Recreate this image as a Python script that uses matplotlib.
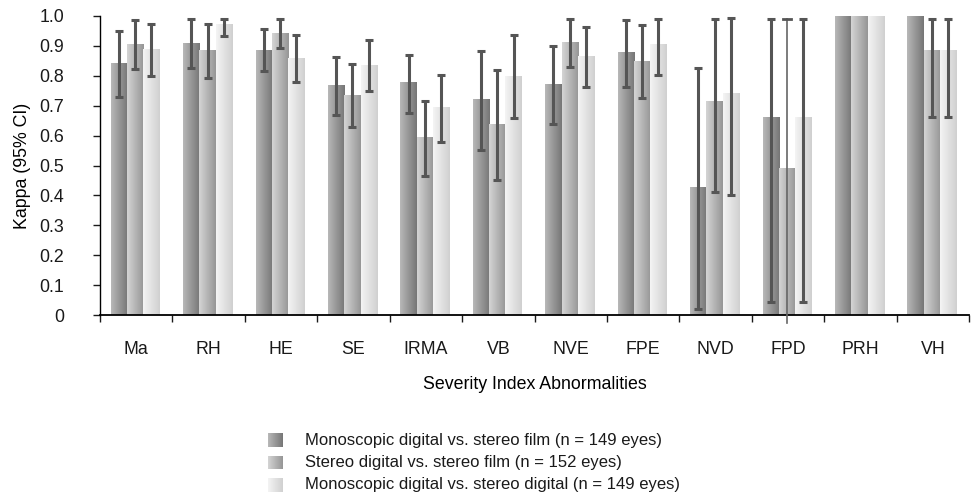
import numpy as np
import matplotlib.pyplot as plt
from matplotlib.colors import LinearSegmentedColormap

plt.rcParams['font.family'] = ['Liberation Sans', 'DejaVu Sans']
plt.rcParams['font.size'] = 12.8
plt.rcParams['text.color'] = '#1a1a1a'
plt.rcParams['xtick.color'] = '#1a1a1a'
plt.rcParams['ytick.color'] = '#1a1a1a'

# Kappa values and 95% CI for each abnormality
categories = ['Ma', 'RH', 'HE', 'SE', 'IRMA', 'VB', 'NVE', 'FPE', 'NVD', 'FPD', 'PRH', 'VH']
series_names = ['Monoscopic digital vs. stereo film (n = 149 eyes)',
                'Stereo digital vs. stereo film (n = 152 eyes)',
                'Monoscopic digital vs. stereo digital (n = 149 eyes)']

kappa_mono_film = [0.842, 0.909, 0.886, 0.769, 0.777, 0.720, 0.772, 0.877, 0.427, 0.661, 1.0, 1.0]
kappa_stereo_film = [0.906, 0.885, 0.942, 0.735, 0.592, 0.638, 0.910, 0.849, 0.713, 0.490, 1.0, 0.883]
kappa_mono_stereo = [0.889, 0.973, 0.858, 0.836, 0.694, 0.799, 0.866, 0.905, 0.740, 0.661, 1.0, 0.883]

lo_mono_film = [0.730, 0.826, 0.817, 0.669, 0.676, 0.552, 0.639, 0.763, 0.020, 0.044, None, None]
hi_mono_film = [0.951, 0.990, 0.955, 0.864, 0.871, 0.884, 0.901, 0.987, 0.826, 0.990, None, None]
lo_stereo_film = [0.823, 0.793, 0.893, 0.629, 0.464, 0.452, 0.828, 0.726, 0.411, -0.028, None, 0.662]
hi_stereo_film = [0.987, 0.973, 0.990, 0.838, 0.717, 0.821, 0.990, 0.971, 0.990, 0.990, None, 0.990]
lo_mono_stereo = [0.798, 0.933, 0.780, 0.750, 0.579, 0.659, 0.764, 0.803, 0.401, 0.044, None, 0.662]
hi_mono_stereo = [0.973, 0.990, 0.937, 0.921, 0.804, 0.937, 0.963, 0.990, 0.994, 0.990, None, 0.990]

kappas = [kappa_mono_film, kappa_stereo_film, kappa_mono_stereo]
lows = [lo_mono_film, lo_stereo_film, lo_mono_stereo]
highs = [hi_mono_film, hi_stereo_film, hi_mono_stereo]

# grey gradients, left edge -> right edge of each bar
shades = [('#b8b8b8', '#767676'), ('#d4d4d4', '#969696'), ('#f4f4f4', '#d0d0d0')]
cmaps = [LinearSegmentedColormap.from_list('s%d' % k, s) for k, s in enumerate(shades)]
grad = np.linspace(0, 1, 64).reshape(1, -1)

fig = plt.figure(figsize=(9.76, 5.0), dpi=100)
ax = fig.add_axes([0.1025, 0.37, 0.8905, 0.598])

x = np.arange(len(categories))
width = 0.225
centre = 0.485
err_color = '#555555'

for k in range(3):
    pos = x + centre + (k - 1) * width
    bars = ax.bar(pos, kappas[k], width, color='none', edgecolor='none')
    for b in bars:
        x0, y0 = b.get_x(), b.get_y()
        ax.imshow(grad, cmap=cmaps[k], aspect='auto', interpolation='bilinear',
                  extent=(x0, x0 + b.get_width(), y0, y0 + b.get_height()), zorder=2)
    for i in range(len(categories)):
        if lows[k][i] is None:
            continue
        lo, hi, v = lows[k][i], highs[k][i], kappas[k][i]
        if lo < 0:
            # lower limit runs past the axis, drawn as a thin line with top cap only
            ax.plot([pos[i], pos[i]], [lo, hi], color='#666666', lw=1.2,
                    clip_on=False, zorder=3)
            ax.plot([pos[i] - 0.05, pos[i] + 0.05], [hi, hi], color=err_color,
                    lw=2, zorder=3)
            continue
        ax.errorbar(pos[i], v, yerr=[[v - lo], [hi - v]], fmt='none', ecolor=err_color,
                    elinewidth=2.2, capsize=2.9, capthick=2.2, zorder=3)

ax.set_xlim(0, len(categories))
ax.set_ylim(0, 1.0)
ax.set_yticks(np.arange(0, 1.01, 0.1))
ax.set_yticklabels(['0'] + ['%.1f' % t for t in np.arange(0.1, 1.01, 0.1)])
ax.set_xticks(x + 0.5)
ax.set_xticklabels(categories)
ax.set_xticks(np.arange(0, len(categories) + 1), minor=True)
ax.tick_params(axis='x', which='major', length=0, pad=19)
ax.tick_params(axis='x', which='minor', length=5, width=1, direction='out')
ax.tick_params(axis='y', length=5, width=1, pad=21, direction='out')
for side in ['top', 'right']:
    ax.spines[side].set_visible(False)
ax.spines['left'].set_linewidth(1)
ax.spines['bottom'].set_linewidth(1.3)
ax.set_xlabel('Severity Index Abnormalities', labelpad=13)
ax.set_ylabel('Kappa (95% CI)', labelpad=6)

# legend with gradient swatches
for k, name in enumerate(series_names):
    yc = 440 + 22.5 * k
    sw = fig.add_axes([268 / 976, 1 - (yc + 7) / 500, 15 / 976, 14 / 500])
    sw.imshow(grad, cmap=cmaps[k], aspect='auto', interpolation='bilinear')
    sw.axis('off')
    fig.text(305 / 976, 1 - yc / 500, name, va='center', ha='left', fontsize=12)

fig.savefig('out.png', dpi=100)
